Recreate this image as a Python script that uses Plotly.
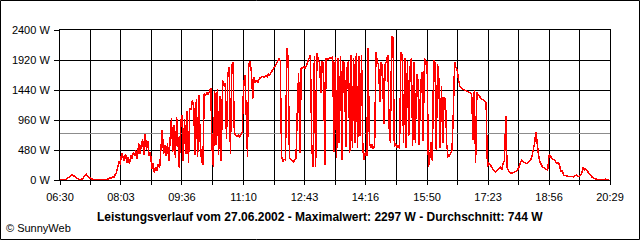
import plotly.graph_objects as go

# ---- data ----
start_time = "06:30"
step_minutes = 2
power_w = [
    # 06:30 - 08:02
    0, 0, 0, 0, 5, 15, 30, 50, 70, 80, 75, 60, 40, 20, 5,
    0, 0, 15, 40, 70, 90, 60, 40, 30, 20, 10, 5,
    0, 0, 0, 0, 0, 0, 0, 0, 0,
    10, 20, 40, 30, 50, 40, 70, 120, 200, 300, 250,
    # 08:04 -
    430, 380, 300, 420, 280, 360, 250, 400, 340, 450,
    380, 470, 330, 590, 420, 560, 650, 400, 740, 480,
    620, 380, 450, 180, 270, 120, 200, 150, 260, 200,
    # 09:04 -
    480, 800, 420, 560, 380, 590, 300, 760, 990, 450,
    880, 350, 1000, 620, 190, 900, 1040, 300, 980, 420,
    1100, 270, 1150, 1120, 1280, 1180, 400, 1300, 370, 1360,
    600, 300, 240, 1380, 1350, 1400, 1370, 1420, 1470, 500,
    210, 1420, 560, 1450, 400, 1350, 300, 1600, 1500, 1550,
    650, 1700, 1800, 420, 1840, 1890, 750,
    # 10:58 -
    720, 700, 720, 690, 730, 760, 1500, 1680, 1100, 370,
    1850, 1900, 1720, 1300, 1650, 1550, 1600, 1560, 1620, 1650,
    1660, 1650, 1640, 1670, 1650, 1700, 1680, 1720, 1760, 1780,
    1820, 1850, 1900, 1950, 1900, 370, 300, 330, 320, 2110,
    1950, 350, 330, 300, 290, 320, 350, 1100, 1710, 430,
    # 12:38 -
    1780, 1800, 1810, 1780, 1850, 1900, 1950, 2000, 560, 210,
    1980, 210, 2030, 1920, 1880, 1390, 1900, 1870, 240, 1950,
    1930, 1940, 1960, 1950, 1970, 450, 1960, 350, 1950, 590,
    1990, 320, 1900, 1850, 530, 1800, 1900, 440, 2000, 510,
    1950, 600, 2030, 520, 1980, 700, 2000, 480, 320, 450,
    380,
    # 14:20 -
    2110, 600, 520, 580, 500, 560, 2050, 1880, 1850, 1250,
    1880, 1800, 900, 1850, 1900, 2000, 850, 600, 2297, 2280,
    530, 580, 520, 560, 500, 2050, 2000, 600, 1950, 520,
    1900, 700, 1800, 1950, 540, 1880, 600, 1700, 1600, 560,
    1500, 1720, 620, 1950, 1850, 1900, 210, 350, 600, 300,
    1920, 1870, 480, 1850, 1600, 520, 1500, 600, 1330, 1280,
    560, 370, 380, 450, 480, 1070, 1890,
    # 16:34 -
    1800, 1750, 1600, 1500, 1470, 1460, 1440, 1440, 1430, 1420,
    1410, 1400, 1380, 640, 1440, 270, 1400, 1360, 1330, 1300,
    1290, 1280, 1260, 1240, 210, 270, 250, 200, 180, 150,
    130, 140, 160, 190, 200, 170, 270, 300, 1020, 200,
    150, 120, 110, 110, 120, 130, 140, 160, 200, 250,
    320, 300, 280, 270, 260, 280, 290, 320, 380, 480,
    590, 770, 560, 400, 290, 240, 210, 200, 180, 170,
    160, 400, 380, 350, 330, 320, 290, 270, 280, 240,
    130, 160, 80, 70, 70, 60, 60, 50, 60, 50,
    50, 70, 80, 60, 60, 80, 110, 210, 160, 180,
    140, 120, 100, 60, 40, 30, 20, 10, 0, 0,
    0, 0, 0, 10, 15, 10, 5, 0,
]
average_w = 744
tick_labels = ["06:30", "08:03", "09:36", "11:10", "12:43",
               "14:16", "15:50", "17:23", "18:56", "20:29"]
y_ticks = [0, 480, 960, 1440, 1920, 2400]
title_text = "Leistungsverlauf vom 27.06.2002 - Maximalwert: 2297 W - Durchschnitt: 744 W"
credit_text = "© SunnyWeb"


def to_min(s):
    h, m = s.split(":")
    return int(h) * 60 + int(m)


t0 = to_min(start_time)
x_min = [t0 + step_minutes * i for i in range(len(power_w))]

label_pos = [to_min(s) for s in tick_labels]
tickvals, ticktext = [], []
for k, p in enumerate(label_pos):
    tickvals.append(p)
    ticktext.append(tick_labels[k])
    if k < len(label_pos) - 1:
        tickvals.append((p + label_pos[k + 1]) / 2)
        ticktext.append("")

FONT = "Liberation Sans, Arial, sans-serif"

fig = go.Figure()
fig.add_trace(go.Scatter(
    x=[label_pos[0], label_pos[-1]], y=[average_w, average_w],
    mode="lines", line=dict(color="#8c8c8c", width=1),
    hoverinfo="skip", showlegend=False))
fig.add_trace(go.Scatter(
    x=x_min, y=power_w, mode="lines",
    line=dict(color="#ff0000", width=1.5), showlegend=False))

W, H = 640, 240
L, R, T, B = 60, 30, 30, 60
pw, ph = W - L - R, H - T - B
y_base = T + ph  # pixel row of paper y = 0


def px_to_py(py):
    return (y_base - py) / ph


def px_to_px(px):
    return (px - L) / pw


fig.update_layout(
    width=W, height=H,
    margin=dict(l=L, r=R, t=T, b=B, pad=0),
    paper_bgcolor="white", plot_bgcolor="white",
    font=dict(family=FONT, size=11, color="black"),
    showlegend=False,
)
fig.update_xaxes(
    range=[label_pos[0], label_pos[-1]],
    tickmode="array", tickvals=tickvals, ticktext=ticktext,
    showgrid=True, gridcolor="black", gridwidth=1,
    showline=True, linecolor="black", linewidth=1, mirror=True,
    ticks="outside", ticklen=4, tickcolor="black", tickwidth=1,
    ticklabelstandoff=3,
    tickfont=dict(family=FONT, size=11, color="black"),
    zeroline=False, fixedrange=True,
)
fig.update_yaxes(
    range=[0, 2400],
    tickmode="array", tickvals=y_ticks,
    ticktext=[f"{v} W" for v in y_ticks],
    showgrid=True, gridcolor="black", gridwidth=1,
    showline=True, linecolor="black", linewidth=1, mirror=True,
    ticks="outside", ticklen=5, tickcolor="black", tickwidth=1,
    ticklabelstandoff=2,
    tickfont=dict(family=FONT, size=11, color="black"),
    zeroline=False, fixedrange=True,
)

# outer frame around the whole image
fig.add_shape(type="rect", xref="paper", yref="paper",
              x0=px_to_px(0.5), x1=px_to_px(W - 0.5),
              y0=px_to_py(H - 0.5), y1=px_to_py(0.5),
              line=dict(color="black", width=1), layer="above")

fig.add_annotation(text=f"<b>{title_text}</b>", xref="paper", yref="paper",
                   x=px_to_px(320), y=px_to_py(217),
                   xanchor="center", yanchor="middle", showarrow=False,
                   font=dict(family=FONT, size=12, color="black"))
fig.add_annotation(text=credit_text, xref="paper", yref="paper",
                   x=px_to_px(4), y=px_to_py(228),
                   xanchor="left", yanchor="middle", showarrow=False,
                   font=dict(family=FONT, size=11, color="black"))

crisp_js = (
    "var gd=document.getElementById('{plot_id}');"
    "gd.querySelectorAll('.scatterlayer path').forEach(function(p){"
    "p.style.shapeRendering='crispEdges';});"
)
fig.write_html("out.html", config={"displayModeBar": False},
               post_script=crisp_js)
